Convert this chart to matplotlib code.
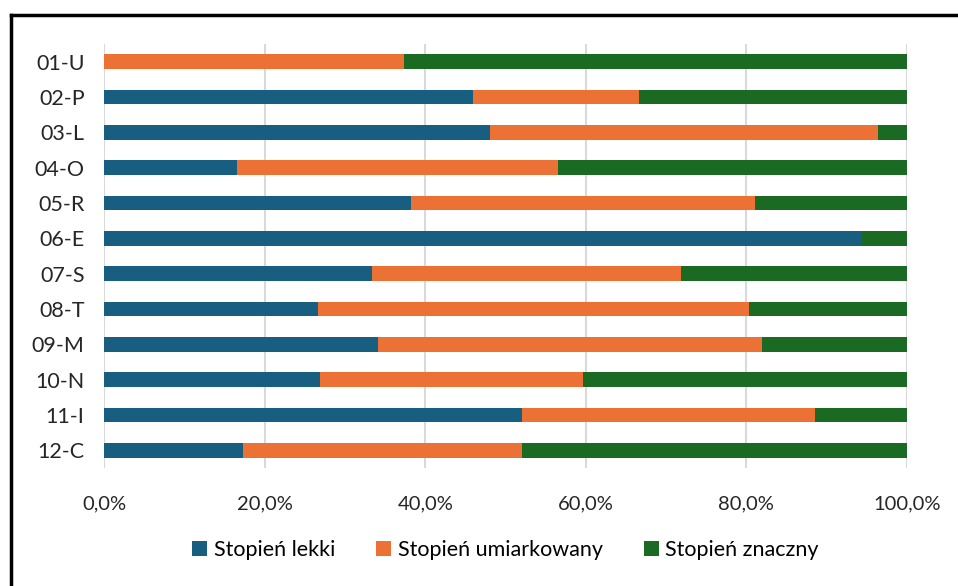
import numpy as np
import matplotlib.pyplot as plt
from matplotlib.lines import Line2D

categories = ["01-U", "02-P", "03-L", "04-O", "05-R", "06-E",
              "07-S", "08-T", "09-M", "10-N", "11-I", "12-C"]
lekki = [0.0, 46.0, 48.1, 16.6, 38.2, 94.4, 33.4, 26.6, 34.1, 26.9, 52.1, 17.3]
umiarkowany = [37.4, 20.6, 48.3, 39.9, 42.9, 0.0, 38.5, 53.7, 47.8, 32.8, 36.4, 34.8]
znaczny = [62.6, 33.4, 3.6, 43.5, 18.9, 5.6, 28.1, 19.7, 18.1, 40.3, 11.5, 47.9]
series_names = ["Stopień lekki", "Stopień umiarkowany", "Stopień znaczny"]
colors = ["#185E80", "#EB7234", "#1B6A24"]

plt.rcParams['font.family'] = ['Lato', 'DejaVu Sans']

fig = plt.figure(figsize=(9.58, 5.86), dpi=100)
ax = fig.add_axes([0.1086, 0.2014, 0.8382, 0.7236])

y = np.arange(len(categories))
left = np.zeros(len(categories))
for vals, name, c in zip([lekki, umiarkowany, znaczny], series_names, colors):
    vals = np.array(vals)
    ax.barh(y, vals, left=left, height=0.42, color=c, label=name, zorder=3)
    left += vals

ax.set_ylim(len(categories) - 0.5, -0.5)
ax.set_xlim(0, 100)
ax.set_yticks(y)
ax.set_yticklabels(categories, fontsize=15.5, color="#262626")
ticks = np.arange(0, 101, 20)
ax.set_xticks(ticks)
ax.set_xticklabels([f"{t:.1f}%".replace(".", ",") for t in ticks], fontsize=14.5, color="#262626")
ax.tick_params(axis="both", length=0)
ax.tick_params(axis="x", pad=20)
ax.tick_params(axis="y", pad=14)
ax.grid(axis="x", color="#D9D9D9", linewidth=1.5, zorder=0)
for s in ax.spines.values():
    s.set_visible(False)

ax.legend(loc="center", bbox_to_anchor=(0.5, -0.193), ncol=3, frameon=False,
          fontsize=15.5, handlelength=0.7, handleheight=0.7, handletextpad=0.3,
          columnspacing=1.9)

# outer frame (left and top edges visible)
fig.add_artist(Line2D([11 / 958, 11 / 958], [0, 1 - 15 / 586], color="black", lw=2.5))
fig.add_artist(Line2D([11 / 958, 1], [1 - 15 / 586, 1 - 15 / 586], color="black", lw=2.5))

plt.savefig("out.png", dpi=100)
